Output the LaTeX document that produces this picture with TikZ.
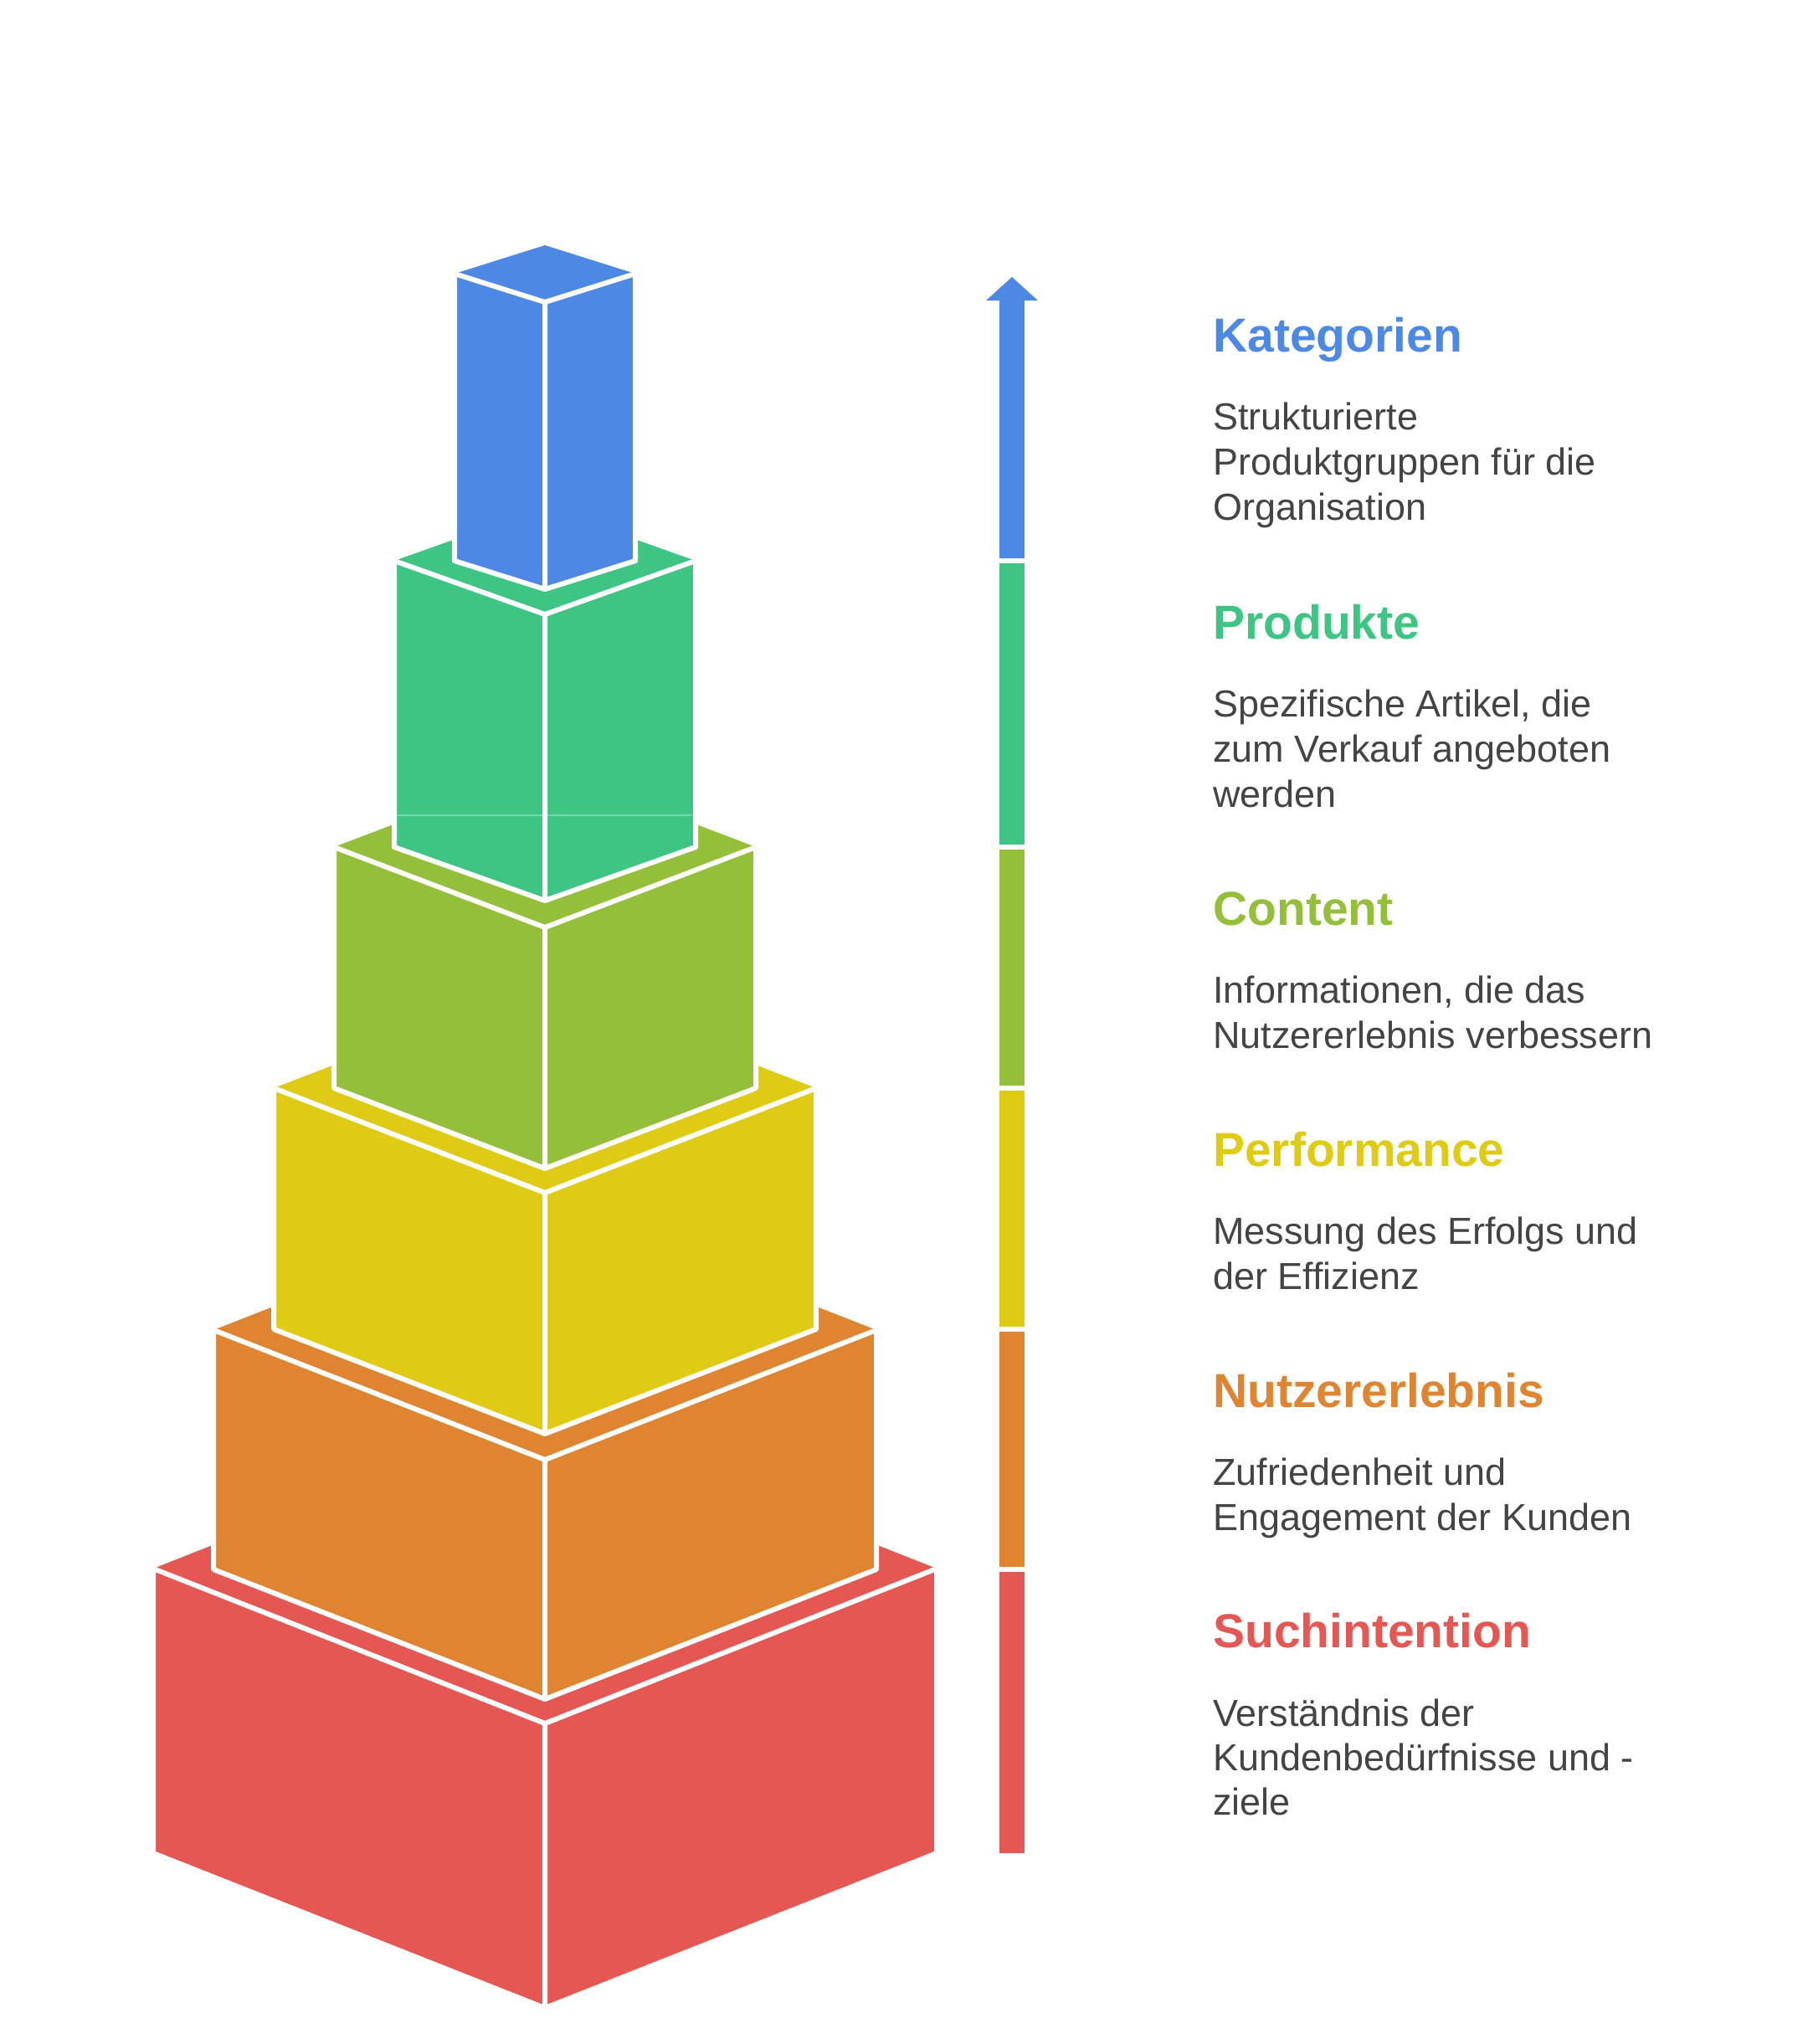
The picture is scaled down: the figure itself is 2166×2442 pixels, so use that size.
\documentclass[tikz,border=0pt]{standalone}
\usepackage{fontspec}
\setmainfont{Liberation Sans}
\definecolor{cblue}{HTML}{4E88E5}
\definecolor{cgreen}{HTML}{3EC483}
\definecolor{cyg}{HTML}{93BF3A}
\definecolor{cyellow}{HTML}{DFCB16}
\definecolor{corange}{HTML}{DF8431}
\definecolor{cred}{HTML}{E55753}
\definecolor{ctext}{HTML}{444444}
\tikzset{
  face/.style={draw=white, line width=6pt, line join=round},
  title/.style={anchor=base west, inner sep=0pt, font=\fontsize{57}{68}\selectfont\bfseries},
  body/.style={anchor=base west, inner sep=0pt, text=ctext, font=\fontsize{45}{54}\selectfont},
}
% #1 name, #2 colour, #3 half width, #4 top corner y, #5 bottom corner y, #6 slope offset
\newcommand{\pyrbox}[6]{%
  \fill[#2] ({651-#3},#4) coordinate (#1-l) -- (651,{#4-#6}) coordinate (#1-b)
     -- ({651+#3},#4) coordinate (#1-r) -- (651,{#4+#6}) coordinate (#1-f) -- cycle;
  \coordinate (#1-fb) at (651,{#5+#6});
  \coordinate (#1-lb) at ({651-#3},#5);
  \coordinate (#1-rb) at ({651+#3},#5);
  \filldraw[face, fill=#2] (#1-l) -- (#1-f) -- (#1-fb) -- (#1-lb) -- cycle;
  \filldraw[face, fill=#2] (#1-r) -- (#1-f) -- (#1-fb) -- (#1-rb) -- cycle;
}
\begin{document}
\begin{tikzpicture}[x=1pt,y=-1pt]
\useasboundingbox (0,0) rectangle (2166,2442);
\fill[white] (0,0) rectangle (2166,2442);

% pyramid of boxes, bottom to top
\pyrbox{red}{cred}{468}{1874}{2214}{185}
\pyrbox{orange}{corange}{396}{1589}{1875}{155}
\pyrbox{yellow}{cyellow}{324}{1300}{1588}{125}
\pyrbox{yg}{cyg}{252}{1012}{1300}{96}
\pyrbox{green}{cgreen}{180}{670}{1012}{64}
\draw[white, opacity=0.3, line width=1.5pt] (474,974) -- (827,974);
\pyrbox{blue}{cblue}{108}{327}{670}{34}

% segmented arrow
\fill[cblue] (1194,357) rectangle (1224,667);
\fill[cblue] (1178,359) -- (1209,331) -- (1240,359) -- cycle;
\fill[cgreen] (1194,673) rectangle (1224,1009);
\fill[cyg] (1194,1015) rectangle (1224,1297);
\fill[cyellow] (1194,1303) rectangle (1224,1585);
\fill[corange] (1194,1591) rectangle (1224,1872);
\fill[cred] (1194,1878) rectangle (1224,2214);

% texts
\node[title, text=cblue] (t1) at (1449,420) {Kategorien};
\node[body] (b1a) at (1449,513) {Strukturierte};
\node[body] (b1b) at (1449,567) {Produktgruppen für die};
\node[body] (b1c) at (1449,621) {Organisation};

\node[title, text=cgreen] (t2) at (1449,763) {Produkte};
\node[body] (b2a) at (1449,856) {Spezifische Artikel, die};
\node[body] (b2b) at (1449,910) {zum Verkauf angeboten};
\node[body] (b2c) at (1449,964) {werden};

\node[title, text=cyg] (t3) at (1449,1105) {Content};
\node[body] (b3a) at (1449,1198) {Informationen, die das};
\node[body] (b3b) at (1449,1252) {Nutzererlebnis verbessern};

\node[title, text=cyellow] (t4) at (1449,1393) {Performance};
\node[body] (b4a) at (1449,1486) {Messung des Erfolgs und};
\node[body] (b4b) at (1449,1540) {der Effizienz};

\node[title, text=corange] (t5) at (1449,1681) {Nutzererlebnis};
\node[body] (b5a) at (1449,1774) {Zufriedenheit und};
\node[body] (b5b) at (1449,1828) {Engagement der Kunden};

\node[title, text=cred] (t6) at (1449,1968) {Suchintention};
\node[body] (b6a) at (1449,2062) {Verständnis der};
\node[body] (b6b) at (1449,2115) {Kundenbedürfnisse und -};
\node[body] (b6c) at (1449,2168) {ziele};
\end{tikzpicture}
\end{document}
